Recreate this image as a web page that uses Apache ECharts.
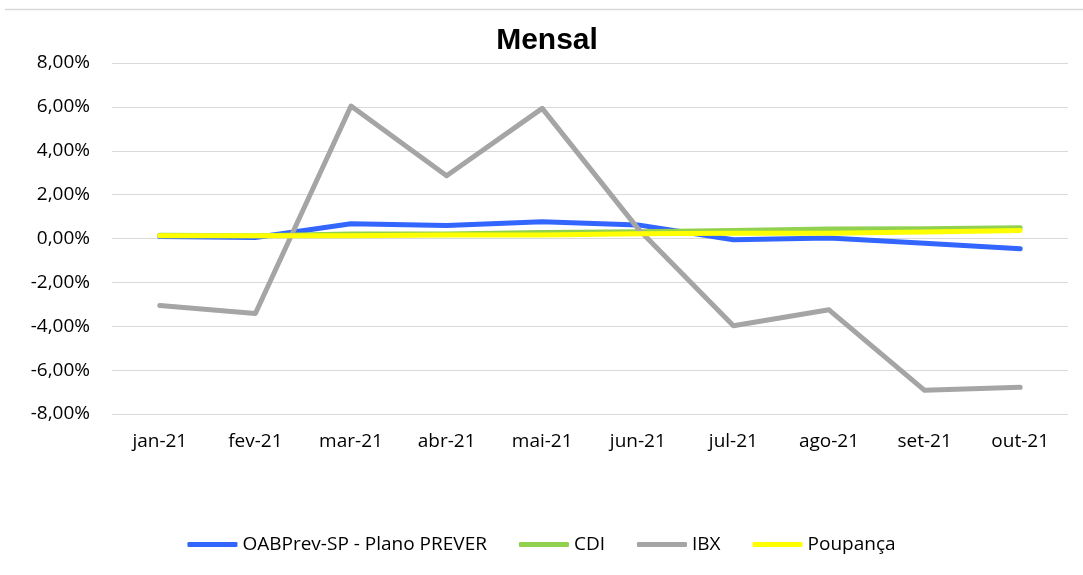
<!DOCTYPE html>
<html>
<head>
<meta charset="utf-8">
<script src="https://cdn.jsdelivr.net/npm/echarts@6/dist/echarts.min.js"></script>
<style>html,body{margin:0;padding:0;background:#fff;}#c{width:1083px;height:575px;}</style>
</head>
<body>
<div id="c"></div>
<script>
var categories = ['jan-21','fev-21','mar-21','abr-21','mai-21','jun-21','jul-21','ago-21','set-21','out-21'];
var oabprev = [0.09, 0.05, 0.67, 0.59, 0.76, 0.62, -0.06, 0.02, -0.22, -0.47];
var cdi = [0.15, 0.13, 0.20, 0.21, 0.27, 0.31, 0.36, 0.43, 0.44, 0.49];
var ibx = [-3.05, -3.42, 6.04, 2.86, 5.93, 0.46, -3.98, -3.25, -6.92, -6.78];
var poupanca = [0.12, 0.12, 0.12, 0.16, 0.16, 0.22, 0.24, 0.24, 0.30, 0.36];
var seriesNames = ['OABPrev-SP - Plano PREVER', 'CDI', 'IBX', 'Poupança'];
var seriesData = [oabprev, cdi, ibx, poupanca];
var colors = ['#3366FF', '#92D050', '#A5A5A5', '#FFFF00'];

var font = '"Open Sans", "Liberation Sans", sans-serif';
var chart = echarts.init(document.getElementById('c'), null, {renderer: 'canvas'});
chart.setOption({
  animation: false,
  backgroundColor: '#ffffff',
  color: colors,
  title: {
    text: 'Mensal', left: 542, top: 21, textAlign: 'center',
    textStyle: {fontFamily: '"Liberation Sans", sans-serif', fontWeight: 'bold', fontSize: 30, color: '#000'}
  },
  graphic: [{
    type: 'line', shape: {x1: 5, y1: 9.5, x2: 1083, y2: 9.5},
    style: {stroke: '#d9d9d9', lineWidth: 1.5}
  }],
  grid: {left: 112, right: 15, top: 63, bottom: 161, containLabel: false},
  legend: {
    data: seriesNames, bottom: 16, left: 'center',
    icon: 'roundRect', itemWidth: 50, itemHeight: 5, itemGap: 32,
    textStyle: {fontFamily: font, fontSize: 19, color: '#000'}
  },
  xAxis: {
    type: 'category', data: categories, boundaryGap: true,
    axisLine: {show: false}, axisTick: {show: false},
    axisLabel: {fontFamily: font, fontSize: 19, color: '#000', margin: 18}
  },
  yAxis: {
    type: 'value', min: -8, max: 8, interval: 2,
    axisLine: {show: false}, axisTick: {show: false},
    splitLine: {lineStyle: {color: '#d9d9d9', width: 1}},
    axisLabel: {fontFamily: font, fontSize: 19, color: '#000', margin: 22,
      formatter: function (v) { return v.toFixed(2).replace('.', ',') + '%'; }}
  },
  series: seriesNames.map(function (n, i) {
    return {
      name: n, type: 'line', data: seriesData[i], symbol: 'none', showSymbol: false,
      lineStyle: {width: 5, color: colors[i], cap: 'round', join: 'round'},
      itemStyle: {color: colors[i]}, z: 2 + i
    };
  })
});
</script>
</body>
</html>
